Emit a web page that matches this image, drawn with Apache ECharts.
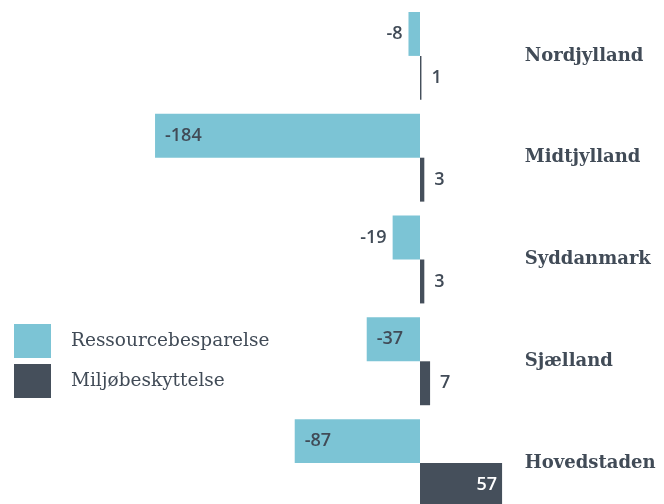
<!DOCTYPE html>
<html>
<head>
<meta charset="utf-8">
<script src="https://cdn.jsdelivr.net/npm/echarts@6/dist/echarts.min.js"></script>
<style>
  html, body { margin: 0; padding: 0; background: #fff; }
  #chart { width: 664px; height: 504px; }
</style>
</head>
<body>
<div id="chart"></div>
<script>
const regions = ['Nordjylland', 'Midtjylland', 'Syddanmark', 'Sjælland', 'Hovedstaden'];
const ressource = [-8, -184, -19, -37, -87];
const miljo = [1, 3, 3, 7, 57];
const seriesNames = ['Ressourcebesparelse', 'Miljøbeskyttelse'];

const textColor = '#414b57';
const blue = '#7cc4d5';
const dark = '#454f5b';

// smalle søjler får tallet udenfor, brede indeni
const blueLabel = (v) => Math.abs(v) >= 30
    ? { position: 'insideLeft', distance: 10 }
    : { position: 'left', distance: 6 };
const darkLabel = (v) => v >= 30
    ? { position: 'insideRight', distance: 5, color: '#fff' }
    : { position: 'right', distance: 10 };

const valueFont = {
    fontFamily: 'Open Sans',
    fontWeight: 600,
    fontSize: 18,
    color: textColor
};

const chart = echarts.init(document.getElementById('chart'));
chart.setOption({
    animation: false,
    legend: {
        orient: 'vertical',
        left: 9,
        top: 319,
        itemWidth: 37,
        itemHeight: 34,
        itemGap: 6,
        icon: 'rect',
        data: seriesNames,
        textStyle: {
            fontFamily: 'DejaVu Serif',
            fontSize: 18.5,
            color: textColor,
            padding: [0, 0, 0, 15]
        }
    },
    grid: {
        left: 132,
        top: 5,
        width: 388.8,
        height: 509,
        containLabel: false,
        outerBoundsMode: 'none'
    },
    xAxis: {
        type: 'value',
        min: -200,
        max: 70,
        show: false
    },
    yAxis: {
        type: 'category',
        data: regions,
        inverse: true,
        position: 'right',
        axisLine: { show: false },
        axisTick: { show: false },
        axisLabel: {
            margin: 4,
            fontFamily: 'DejaVu Serif',
            fontWeight: 'bold',
            fontSize: 18,
            color: textColor
        }
    },
    series: [
        {
            name: seriesNames[0],
            type: 'bar',
            barGap: '0%',
            barCategoryGap: '13.7%',
            itemStyle: { color: blue },
            label: Object.assign({ show: true }, valueFont),
            data: ressource.map(v => ({ value: v, label: blueLabel(v) }))
        },
        {
            name: seriesNames[1],
            type: 'bar',
            itemStyle: { color: dark },
            label: Object.assign({ show: true }, valueFont),
            data: miljo.map(v => ({ value: v, label: darkLabel(v) }))
        }
    ]
});
</script>
</body>
</html>
